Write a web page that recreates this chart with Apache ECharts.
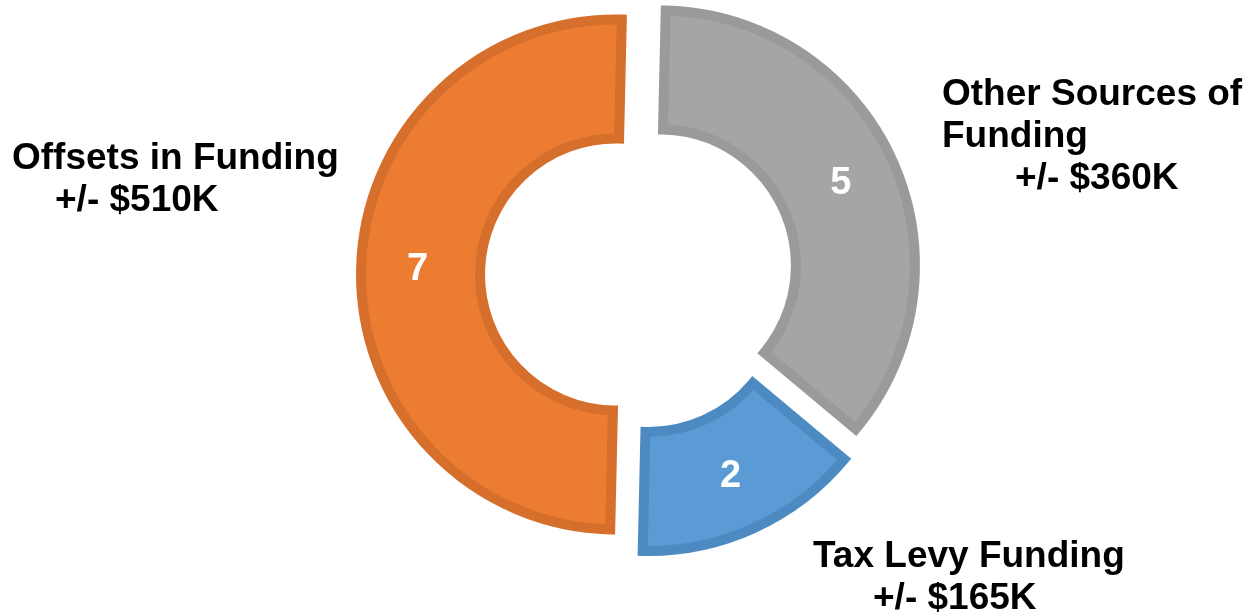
<!DOCTYPE html>
<html>
<head>
<meta charset="utf-8">
<script src="https://cdn.jsdelivr.net/npm/echarts@6/dist/echarts.min.js"></script>
<style>
  html, body { margin: 0; padding: 0; background: #fff; }
  #app { width: 1252px; height: 612px; }
</style>
</head>
<body>
<div id="app"></div>
<script>
(function () {
  const categories = ['Other Sources of\nFunding', 'Tax Levy Funding', 'Offsets in Funding'];
  const counts = [5, 2, 7];
  const amounts = ['+/- $360K', '+/- $165K', '+/- $510K'];
  const fills = ['#A5A5A5', '#5B9BD5', '#EB7C31'];
  const borders = ['#9A9A9A', '#4E8AC2', '#D56F2B'];

  // caption placement: [x of name, baseline of first line, x of amount line]
  const captionPos = [[942, 108, 1015], [813, 570, 873], [12, 172, 55]];
  const lineGap = 42;
  const font = '"Liberation Sans", Arial, sans-serif';

  var myChart = echarts.init(document.getElementById('app'));

  // outer captions as plain text
  let captions = [];
  categories.forEach((name, i) => {
    let lines = name.split('\n').map(t => ({ text: t, x: captionPos[i][0] }));
    lines.push({ text: amounts[i], x: captionPos[i][2] });
    lines.forEach((ln, k) => {
      captions.push({
        type: 'text',
        x: ln.x,
        y: captionPos[i][1] + k * lineGap - 13,
        style: {
          text: ln.text,
          fill: '#000',
          font: 'bold 37px ' + font,
          textAlign: 'left',
          textVerticalAlign: 'middle'
        }
      });
    });
  });

  let slices = counts.map((v, i) => {
    let st = {
      color: fills[i],
      borderColor: borders[i],
      borderWidth: 10,
      borderJoin: 'miter'
    };
    return {
      value: v,
      name: categories[i],
      selected: true,
      itemStyle: st,
      select: { itemStyle: st }
    };
  });

  let option = {
    animation: false,
    graphic: captions,
    series: [
      {
        type: 'pie',
        center: [639, 275],
        radius: [136, 255],
        startAngle: 88.7,
        clockwise: true,
        selectedMode: 'multiple',
        selectedOffset: 23,
        avoidLabelOverlap: false,
        label: {
          show: true,
          position: 'inside',
          formatter: '{c}',
          color: '#fff',
          fontSize: 38,
          fontWeight: 'bold',
          fontFamily: font
        },
        labelLine: { show: false },
        emphasis: { disabled: true },
        data: slices
      }
    ]
  };

  myChart.setOption(option);
})();
</script>
</body>
</html>
